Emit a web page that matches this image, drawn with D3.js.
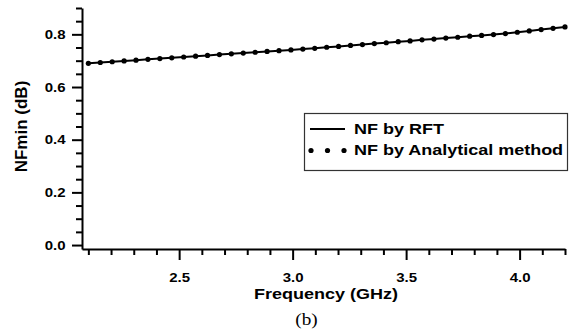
<!DOCTYPE html>
<html>
<head>
<meta charset="utf-8">
<script src="https://cdn.jsdelivr.net/npm/d3@7"></script>
<style>
  body { margin: 0; background: #fff; }
  svg { display: block; }
</style>
</head>
<body>
<svg id="chart"></svg>
<script>
// frequency points (GHz), 2.1 .. 4.2
const freq = [2.1, 2.1525, 2.205, 2.2575, 2.31, 2.3625, 2.415, 2.4675, 2.52, 2.5725,
  2.625, 2.6775, 2.73, 2.7825, 2.835, 2.8875, 2.94, 2.9925, 3.045, 3.0975,
  3.15, 3.2025, 3.255, 3.3075, 3.36, 3.4125, 3.465, 3.5175, 3.57, 3.6225,
  3.675, 3.7275, 3.78, 3.8325, 3.885, 3.9375, 3.99, 4.0425, 4.095, 4.1475, 4.2];
// NFmin (dB) from RFT and from the analytical method
const nfRFT = [0.690, 0.693, 0.696, 0.699, 0.702, 0.705, 0.708, 0.711, 0.714, 0.717,
  0.720, 0.723, 0.726, 0.729, 0.732, 0.735, 0.738, 0.741, 0.744, 0.747,
  0.751, 0.754, 0.758, 0.761, 0.765, 0.768, 0.772, 0.775, 0.779, 0.782,
  0.786, 0.789, 0.793, 0.796, 0.799, 0.803, 0.808, 0.813, 0.818, 0.823, 0.828];
const nfAnalytical = [0.690, 0.693, 0.696, 0.699, 0.702, 0.705, 0.708, 0.711, 0.714, 0.717,
  0.720, 0.723, 0.726, 0.729, 0.732, 0.735, 0.738, 0.741, 0.744, 0.747,
  0.751, 0.754, 0.758, 0.761, 0.765, 0.768, 0.772, 0.775, 0.779, 0.782,
  0.786, 0.789, 0.793, 0.796, 0.799, 0.803, 0.808, 0.813, 0.818, 0.823, 0.828];
const xTicks = [2.5, 3.0, 3.5, 4.0];
const yTicks = [0.0, 0.2, 0.4, 0.6, 0.8];
const legendLabels = ["NF by RFT", "NF by Analytical method"];

const W = 570, H = 331;
const plotLeft = 82, plotRight = 565, plotTop = 8, plotBottom = 249;
const font = "'Liberation Sans', Arial, sans-serif";
const sx = 1.2; // the original figure is a bit stretched horizontally

const svg = d3.select("#chart").attr("width", W).attr("height", H);

const x = d3.scaleLinear().domain([2.072, 4.2]).range([plotLeft, plotRight]);
const y = d3.scaleLinear().domain([-0.015, 0.9]).range([plotBottom, plotTop]);

// minor ticks
const xMinor = d3.range(21, 43).map(d => d / 10).filter(d => !xTicks.some(t => Math.abs(t - d) < 1e-6));
const yMinor = d3.range(0, 19).map(d => d * 0.05).filter(d => !yTicks.some(t => Math.abs(t - d) < 1e-6));

const xAxis = svg.append("g")
  .attr("transform", "translate(0," + plotBottom + ")")
  .call(d3.axisBottom(x).tickValues(xTicks).tickFormat(d3.format(".1f")).tickSize(11).tickSizeOuter(0));
svg.append("g")
  .attr("transform", "translate(0," + plotBottom + ")")
  .call(d3.axisBottom(x).tickValues(xMinor).tickFormat("").tickSize(6).tickSizeOuter(0))
  .select(".domain").remove();

const yAxis = svg.append("g")
  .attr("transform", "translate(" + plotLeft + ",0)")
  .call(d3.axisLeft(y).tickValues(yTicks).tickFormat(d3.format(".1f")).tickSize(10).tickSizeOuter(0));
svg.append("g")
  .attr("transform", "translate(" + plotLeft + ",0)")
  .call(d3.axisLeft(y).tickValues(yMinor).tickFormat("").tickSize(6).tickSizeOuter(0))
  .select(".domain").remove();

svg.selectAll(".domain").attr("stroke", "#000").attr("stroke-width", 2);
svg.selectAll(".tick line").attr("stroke", "#000").attr("stroke-width", 2);
svg.selectAll(".tick text")
  .attr("fill", "#000")
  .attr("transform", "scale(" + sx + ",1)")
  .style("font-family", font)
  .style("font-weight", "bold")
  .style("font-size", "12.5px");
xAxis.selectAll(".tick text").attr("dy", 0).attr("y", 33);
yAxis.selectAll(".tick text").attr("x", -16.5 / sx);

// lines
const line = d3.line().x((d, i) => x(freq[i])).y(d => y(d));
svg.append("path")
  .datum(nfRFT)
  .attr("fill", "none")
  .attr("stroke", "#000")
  .attr("stroke-width", 2)
  .attr("d", line);

svg.append("g")
  .selectAll("circle")
  .data(nfAnalytical)
  .join("circle")
  .attr("cx", (d, i) => x(freq[i]))
  .attr("cy", d => y(d))
  .attr("r", 2.6)
  .attr("fill", "#000");

// axis titles
svg.append("text")
  .attr("transform", "translate(326,299) scale(" + sx + ",1)")
  .attr("text-anchor", "middle")
  .style("font-family", font)
  .style("font-weight", "bold")
  .style("font-size", "15px")
  .text("Frequency (GHz)");

svg.append("text")
  .attr("transform", "translate(27,126.5) rotate(-90)")
  .attr("text-anchor", "middle")
  .style("font-family", font)
  .style("font-weight", "bold")
  .style("font-size", "17px")
  .text("NFmin (dB)");

svg.append("text")
  .attr("transform", "translate(306.5,325) scale(" + sx + ",1)")
  .attr("text-anchor", "middle")
  .style("font-family", "'Liberation Serif', 'Times New Roman', serif")
  .style("font-size", "16px")
  .text("(b)");

// legend
const lg = svg.append("g");
lg.append("rect")
  .attr("x", 304.5).attr("y", 113.5)
  .attr("width", 263).attr("height", 57)
  .attr("fill", "#fff")
  .attr("stroke", "#333")
  .attr("stroke-width", 1.2);
lg.append("line")
  .attr("x1", 310).attr("x2", 345)
  .attr("y1", 129).attr("y2", 129)
  .attr("stroke", "#000").attr("stroke-width", 1.8);
lg.selectAll("circle")
  .data([311, 327.5, 344])
  .join("circle")
  .attr("cx", d => d).attr("cy", 150.5)
  .attr("r", 2.6).attr("fill", "#000");
lg.selectAll("text")
  .data(legendLabels)
  .join("text")
  .attr("transform", (d, i) => "translate(354," + (134 + i * 21) + ") scale(" + sx + ",1)")
  .style("font-family", font)
  .style("font-weight", "bold")
  .style("font-size", "15px")
  .text(d => d);
</script>
</body>
</html>
